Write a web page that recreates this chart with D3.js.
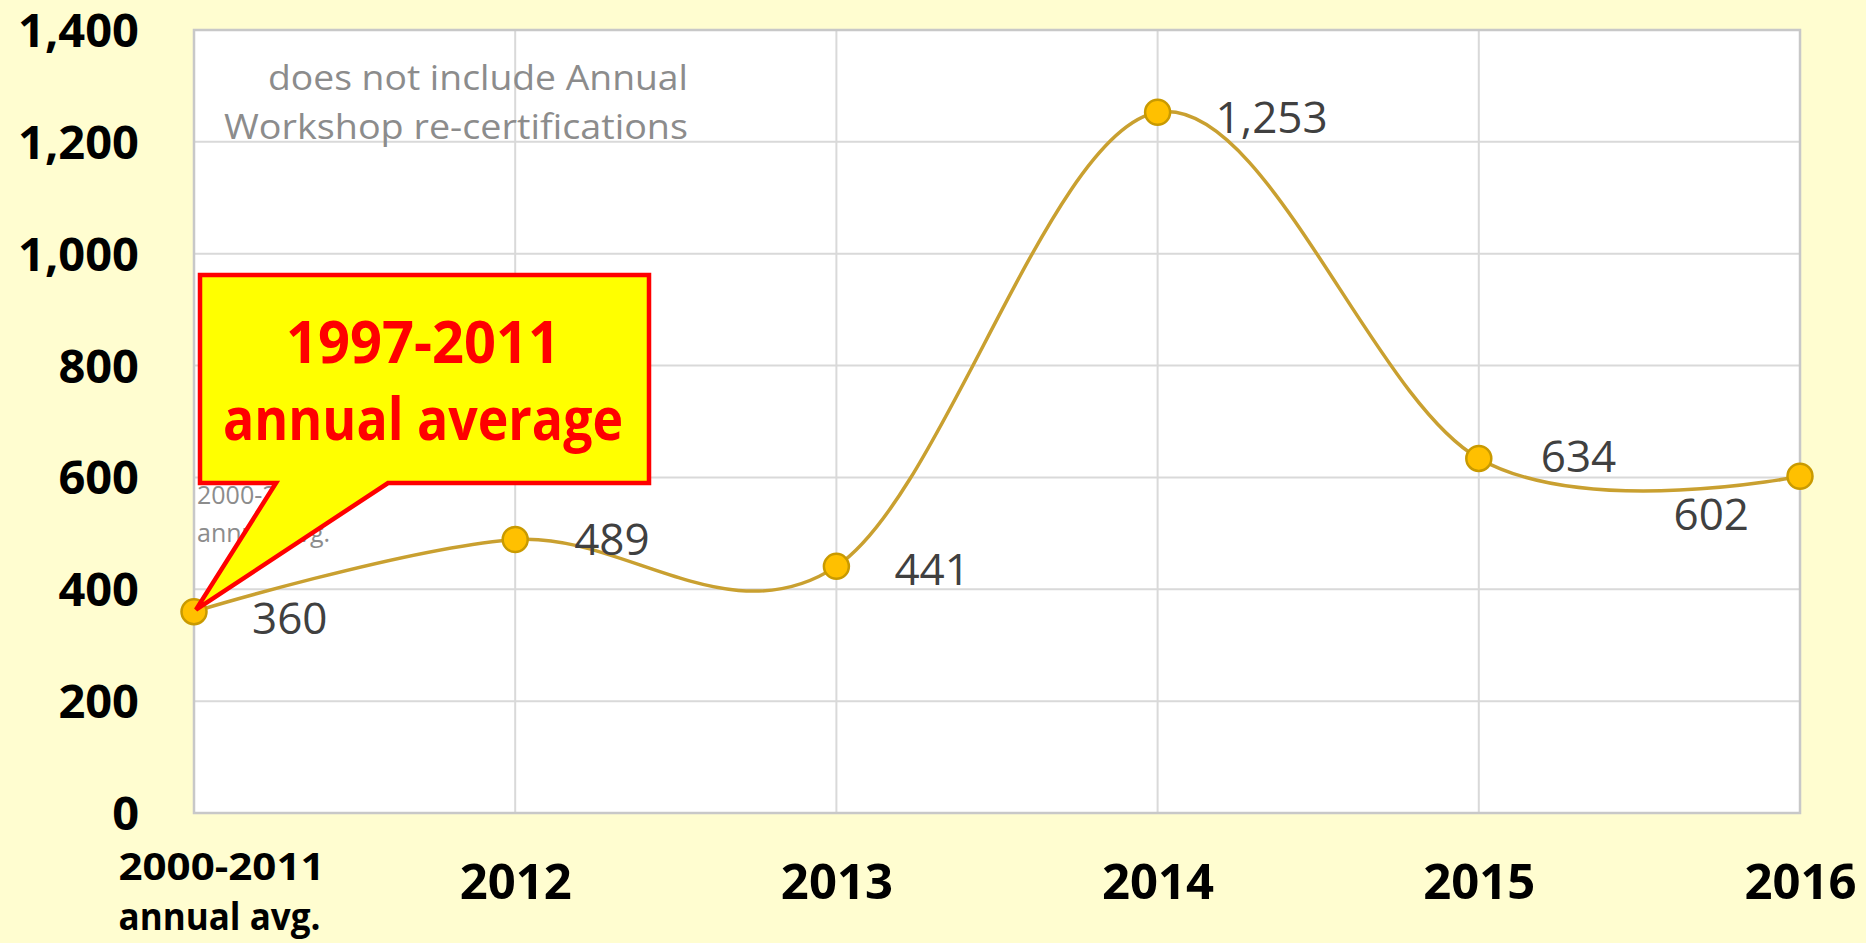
<!DOCTYPE html>
<html>
<head>
<meta charset="utf-8">
<script src="https://cdn.jsdelivr.net/npm/d3@7"></script>
<style>
  html, body { margin: 0; padding: 0; background: #FFFDD0; }
  svg { display: block; }
</style>
</head>
<body>
<div id="chart"></div>
<script>
"use strict"

// chart data
var categories = ['2000-2011 annual avg.', '2012', '2013', '2014', '2015', '2016'];
var values = [360, 489, 441, 1253, 634, 602];
var yTicks = [0, 200, 400, 600, 800, 1000, 1200, 1400];
var noteLines = ['does not include Annual', 'Workshop re-certifications'];
var calloutLines = ['1997-2011', 'annual average'];

// where each data label sits relative to its point
var labelOffsets = [[58, 7, 'start'], [59, 0, 'start'], [58, 3, 'start'], [58, 5, 'start'], [62, -2, 'start'], [-51, 38, 'end']];

var W = 1866, H = 943;
var margin = {top: 30, right: 66, bottom: 130, left: 194};
var width = W - margin.left - margin.right;
var height = H - margin.top - margin.bottom;

var svg = d3.select('#chart').append('svg')
    .attr('width', W)
    .attr('height', H);

var g = svg.append('g')
    .attr('transform', 'translate(' + margin.left + ',' + margin.top + ')');

var x = d3.scalePoint()
    .domain(categories)
    .range([0, width]);
var y = d3.scaleLinear()
    .domain([0, 1400])
    .range([height, 0]);

// plot area
g.append('rect')
    .attr('width', width)
    .attr('height', height)
    .attr('fill', '#fff');

// gridlines
g.selectAll('.hgrid').data(yTicks).enter().append('line')
    .attr('x1', 0).attr('x2', width)
    .attr('y1', function(d) { return y(d); })
    .attr('y2', function(d) { return y(d); })
    .attr('stroke', '#D9D9D9')
    .attr('stroke-width', 2);
g.selectAll('.vgrid').data(categories).enter().append('line')
    .attr('x1', function(d) { return x(d); })
    .attr('x2', function(d) { return x(d); })
    .attr('y1', 0).attr('y2', height)
    .attr('stroke', '#D9D9D9')
    .attr('stroke-width', 2);
g.append('rect')
    .attr('width', width)
    .attr('height', height)
    .attr('fill', 'none')
    .attr('stroke', '#C8C8C8')
    .attr('stroke-width', 2.5);

// y axis labels
var yAxis = g.append('g')
    .call(d3.axisLeft(y).tickValues(yTicks).tickSize(0).tickPadding(55).tickFormat(d3.format(',')));
yAxis.select('.domain').remove();
yAxis.selectAll('text')
    .attr('dy', '0.35em')
    .attr('font-family', '"Open Sans", sans-serif')
    .attr('font-weight', 'bold')
    .attr('font-size', 47)
    .attr('fill', '#000');

// x axis labels
var xAxis = g.append('g')
    .attr('transform', 'translate(0,' + height + ')')
    .call(d3.axisBottom(x).tickSize(0).tickFormat(''));
xAxis.select('.domain').remove();
xAxis.selectAll('.tick').each(function(d, i) {
    var t = d3.select(this).append('text')
        .attr('font-family', '"Open Sans", sans-serif')
        .attr('font-weight', 'bold')
        .attr('fill', '#000');
    if (i === 0) {
        t.attr('font-size', 37).attr('text-anchor', 'start');
        t.append('tspan').attr('x', -76).attr('y', 67).attr('textLength', 206).attr('lengthAdjust', 'spacingAndGlyphs').text('2000-2011');
        t.append('tspan').attr('x', -76).attr('y', 117).attr('textLength', 202).attr('lengthAdjust', 'spacingAndGlyphs').text('annual avg.');
    } else {
        t.attr('font-size', 49).attr('text-anchor', 'middle').attr('y', 86).text(d);
    }
});

// leftover label, mostly hidden behind the callout
var small = g.append('text')
    .attr('font-family', '"Open Sans", sans-serif')
    .attr('font-size', 25)
    .attr('fill', '#8C8C8C');
small.append('tspan').attr('x', 3).attr('y', 474).text('2000-2011');
small.append('tspan').attr('x', 3).attr('y', 512).text('annual avg.');

// smoothed line
var line = d3.line()
    .x(function(d, i) { return x(categories[i]); })
    .y(function(d) { return y(d); })
    .curve(d3.curveCardinal.tension(0));
g.append('path')
    .datum(values)
    .attr('d', line)
    .attr('fill', 'none')
    .attr('stroke', '#C9A030')
    .attr('stroke-width', 3.5);

g.selectAll('.dot').data(values).enter().append('circle')
    .attr('cx', function(d, i) { return x(categories[i]); })
    .attr('cy', function(d) { return y(d); })
    .attr('r', 12.5)
    .attr('fill', '#FFC000')
    .attr('stroke', '#C99A00')
    .attr('stroke-width', 2.5);

// data labels
g.selectAll('.lbl').data(values).enter().append('text')
    .attr('x', function(d, i) { return x(categories[i]) + labelOffsets[i][0]; })
    .attr('y', function(d, i) { return y(d) + labelOffsets[i][1]; })
    .attr('dy', '0.36em')
    .attr('text-anchor', function(d, i) { return labelOffsets[i][2]; })
    .attr('font-family', '"Open Sans", sans-serif')
    .attr('font-size', 44)
    .attr('fill', '#404040')
    .text(function(d) { return d3.format(',')(d); });

// note text
var note = g.append('text')
    .attr('font-family', '"Open Sans", sans-serif')
    .attr('font-size', 35)
    .attr('fill', '#8C8C8C')
    .attr('text-anchor', 'end');
note.append('tspan').attr('x', 494).attr('y', 60).attr('textLength', 420).attr('lengthAdjust', 'spacingAndGlyphs').text(noteLines[0]);
note.append('tspan').attr('x', 494).attr('y', 109).attr('textLength', 464).attr('lengthAdjust', 'spacingAndGlyphs').text(noteLines[1]);

// callout pointing at the first point
var tipX = x(categories[0]) + 2, tipY = y(values[0]) - 2;
var box = {x0: 6, y0: 245, x1: 455, y1: 453};
g.append('path')
    .attr('d', 'M' + box.x0 + ',' + box.y0 + 'H' + box.x1 + 'V' + box.y1 + 'H194L' + tipX + ',' + tipY + 'L82,' + box.y1 + 'H' + box.x0 + 'Z')
    .attr('fill', '#FFFF00')
    .attr('stroke', '#FF0000')
    .attr('stroke-width', 4.5)
    .attr('stroke-linejoin', 'miter');
var co = g.append('text')
    .attr('font-family', '"Open Sans", sans-serif')
    .attr('font-weight', 'bold')
    .attr('font-size', 59)
    .attr('fill', '#FF0000')
    .attr('text-anchor', 'middle');
co.append('tspan').attr('x', 229).attr('y', 333).attr('textLength', 274).attr('lengthAdjust', 'spacingAndGlyphs').text(calloutLines[0]);
co.append('tspan').attr('x', 229).attr('y', 410).attr('textLength', 400).attr('lengthAdjust', 'spacingAndGlyphs').text(calloutLines[1]);
</script>
</body>
</html>
